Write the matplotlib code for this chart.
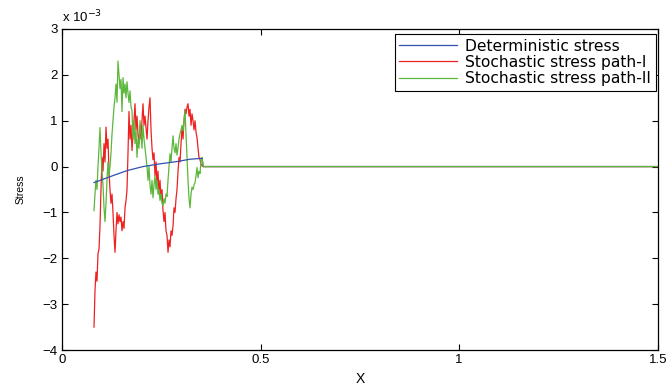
import numpy as np
import matplotlib
matplotlib.use("Agg")
import matplotlib.pyplot as plt

plt.rcParams['font.family'] = ['Liberation Sans', 'DejaVu Sans']

# Stress values are in units of 1e-3
x_start, x_end, x_max = 0.0805, 0.3525, 1.5

det_x = [0.0805, 0.121, 0.163, 0.204, 0.247, 0.290, 0.322, 0.3525]
det_stress = [-0.35, -0.22, -0.09, 0.0, 0.06, 0.11, 0.16, 0.18]

path1 = [-3.5, -2.7, -2.3, -2.5, -1.9, -1.8, -1.3, -0.5, 0.2, -0.1,
         0.5, 0.1, 0.86, 0.4, 0.6, -0.1, -0.5, -0.8, -0.6, -1.0,
         -1.5, -1.87, -1.4, -1.0, -1.25, -1.05, -1.2, -1.1, -1.4, -1.2,
         -1.35, -0.9, -0.75, -0.5, 0.3, 1.2, 0.6, 0.9, 0.35, 0.7,
         1.0, 1.37, 0.8, 1.1, 0.7, 0.5, 0.9, 0.6, 1.0, 1.37,
         0.9, 1.1, 0.85, 0.6, 1.0, 1.3, 1.5, 0.8, 0.4, 0.15,
         0.3, -0.2, 0.1, -0.4, -0.1, -0.6, -0.3, -0.7, -0.5, -0.96,
         -1.2, -1.0, -1.4, -1.5, -1.87, -1.6, -1.75, -1.4, -1.5, -1.3,
         -0.9, -1.0, -0.7, -0.5, -0.1, 0.2, 0.1, 0.5, 0.85, 0.6,
         1.0, 1.25, 1.15, 1.3, 1.37, 1.1, 1.25, 0.9, 1.15, 1.0,
         0.8, 1.0, 0.75, 0.63, 0.4, 0.2, 0.15, 0.05, 0.02]

path2 = [-0.96, -0.6, -0.3, -0.5, 0.0, 0.4, 0.85, 0.3, -0.1, -0.4,
         -0.9, -1.2, -0.8, -0.3, 0.1, -0.2, 0.0, 0.3, 0.7, 1.0,
         1.3, 1.5, 1.8, 1.4, 2.3, 2.0, 1.7, 1.9, 1.2, 1.94,
         1.6, 1.8, 1.5, 1.85, 1.6, 1.4, 1.65, 1.3, 1.22, 0.6,
         1.0, 0.5, 0.8, 0.2, 0.6, 0.4, 1.0, 0.7, 0.4, 0.9,
         0.6, 0.4, 0.2, 0.0, -0.3, 0.0, -0.4, -0.6, -0.3, -0.68,
         -0.4, -0.2, -0.5, -0.3, -0.6, -0.5, -0.74, -0.6, -0.8, -0.85,
         -0.7, -0.8, -0.6, -0.65, -0.3, 0.0, 0.28, 0.1, 0.4, 0.67,
         0.4, 0.3, 0.5, 0.25, 0.4, 0.6, 0.72, 0.8, 0.9, 0.78,
         1.0, 1.22, 0.7, 0.2, -0.3, -0.7, -0.9, -0.6, -0.45, -0.5,
         -0.4, -0.35, -0.2, -0.02, -0.24, -0.1, -0.15, 0.13, 0.2]

labels = ['Deterministic stress', 'Stochastic stress path-I', 'Stochastic stress path-II']
colors = ['#3050b0', '#ee2020', '#5cb83c']

xs = np.linspace(x_start, x_end, len(path1))
tail_x = [x_end + 0.003, x_max]
tail_y = [0.0, 0.0]

fig = plt.figure(figsize=(6.72, 3.85), dpi=100)
ax = fig.add_axes([0.0923, 0.0909, 0.8865, 0.8338])

# zero tails after the loading window; path-II is drawn last so it shows on top
ax.plot([det_x[-1]] + tail_x, [det_stress[-1]] + tail_y, color=colors[0], lw=0.9, zorder=1)
ax.plot(list(xs) + tail_x, list(path1) + tail_y, color=colors[1], lw=0.9, label=labels[1], zorder=2)
ax.plot(list(xs) + tail_x, list(path2) + tail_y, color=colors[2], lw=0.9, label=labels[2], zorder=3)
ax.plot(det_x, det_stress, color=colors[0], lw=0.9, label=labels[0], zorder=4)

ax.set_xlim(0, 1.5)
ax.set_ylim(-4, 3)
ax.set_xticks([0, 0.5, 1, 1.5])
ax.set_xticklabels(['0', '0.5', '1', '1.5'])
ax.set_yticks(range(-4, 4))
ax.tick_params(direction='in', top=True, right=True, length=4, width=0.8, labelsize=9.5, pad=3)
for s in ax.spines.values():
    s.set_linewidth(0.9)

ax.set_xlabel('X', fontsize=10, labelpad=4)
ax.set_ylabel('Stress', fontsize=7.5, labelpad=12)
ax.text(0.0, 1.012, r'x 10$^{-3}$', transform=ax.transAxes, fontsize=9.5, ha='left', va='bottom')

handles, labs = ax.get_legend_handles_labels()
order = [labs.index(l) for l in labels]
leg = ax.legend([handles[i] for i in order], [labs[i] for i in order],
                loc='upper right', bbox_to_anchor=(656 / 672, 1 - 34 / 385),
                bbox_transform=fig.transFigure,
                prop={'family': 'DejaVu Sans', 'size': 11.2},
                handlelength=3.7, frameon=True, fancybox=False,
                edgecolor='black', framealpha=1, borderaxespad=0.0, labelspacing=0.08,
                borderpad=0.3, handletextpad=0.55)
leg.get_frame().set_linewidth(0.8)

fig.savefig('out.png', dpi=100)
